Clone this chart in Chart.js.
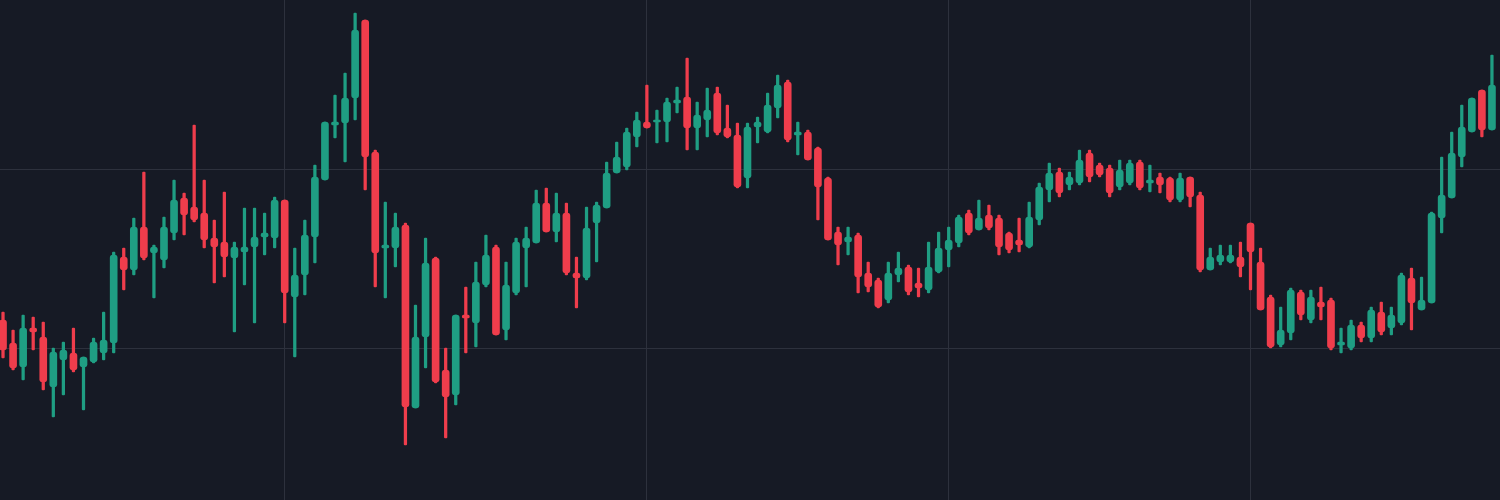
<!DOCTYPE html>
<html>
<head>
<meta charset="utf-8">
<script src="https://cdn.jsdelivr.net/npm/chart.js@4.4.1/dist/chart.umd.min.js"></script>
<style>
  html, body { margin: 0; padding: 0; background: #161a25; }
  canvas { display: block; }
</style>
</head>
<body>
<canvas id="candles" width="1500" height="500"></canvas>
<script>
// OHLC per candle (arbitrary price units)
const opens = [180,157,133,172,163,113,140,147,133,138,147,157,243,230,273,247,240,267,302,293,
  287,262,258,242,248,253,263,262,300,203,225,263,320,375,377,402,480,348,252,252,
  275,92,163,242,130,105,185,177,215,253,170,207,252,257,297,268,287,227,222,277,
  292,327,333,363,378,378,378,397,403,372,380,407,372,365,322,373,368,392,418,365,
  368,352,322,268,258,265,227,220,200,225,233,217,210,228,250,257,287,270,285,282,
  267,260,253,280,310,328,315,317,347,335,332,313,317,338,317,323,322,300,323,305,
  230,238,238,243,277,238,203,155,167,208,180,198,200,155,152,175,162,188,172,177,
  222,190,197,282,302,343,368,410,370];
const highs = [188,170,185,183,178,152,158,172,143,162,188,248,252,282,328,255,283,320,307,375,
  320,280,308,258,292,292,287,303,300,252,280,335,378,405,427,487,480,350,298,287,
  277,195,262,243,152,185,213,238,265,255,238,262,273,310,312,307,297,243,293,298,
  338,358,372,388,415,390,402,413,442,398,412,413,395,377,377,383,407,425,420,378,
  370,353,323,273,273,267,238,222,238,248,235,232,258,268,273,285,290,300,295,285,
  268,282,298,317,337,332,328,350,350,337,335,340,340,340,335,327,323,327,323,308,
  252,255,255,258,277,252,205,193,212,210,210,213,202,172,180,178,193,198,193,227,
  232,223,288,343,368,395,402,410,445];
const lows = [142,130,120,150,110,83,105,128,90,137,140,147,210,225,240,202,232,260,265,278,
  252,217,223,168,215,177,245,252,177,143,205,237,320,362,338,380,310,213,202,233,
  55,92,132,117,62,95,147,153,213,165,160,205,213,257,268,258,225,192,220,238,
  292,327,330,353,372,357,358,387,350,350,363,365,362,312,312,357,367,382,358,345,
  340,280,260,235,245,207,208,192,197,218,205,203,207,227,233,253,265,270,270,245,
  247,248,252,275,298,303,310,315,318,323,303,310,315,310,308,307,298,298,293,228,
  230,235,237,223,210,190,152,153,160,180,177,180,150,147,150,158,158,165,165,175,
  170,190,197,267,302,333,368,363,370];
const closes = [150,132,172,168,118,148,150,130,143,158,160,245,230,273,242,253,273,300,285,280,
  260,253,243,253,253,263,267,300,207,225,265,323,378,378,402,470,343,247,255,273,
  93,163,237,118,103,185,182,218,245,165,215,258,262,297,268,287,227,222,272,295,
  327,343,368,380,372,380,398,400,372,385,390,367,363,313,373,378,395,415,360,368,
  340,313,260,255,263,223,213,193,227,232,208,212,233,252,260,283,267,282,272,253,
  250,255,283,313,327,307,323,340,323,325,307,330,337,312,320,315,300,322,303,230,
  243,245,245,233,248,190,153,170,210,185,203,193,152,158,175,162,190,168,185,225,
  197,200,287,305,347,373,402,370,415];

// candle index where the faint vertical lines sit, and the two horizontal levels
const gridCandles = [28, 64, 94, 124];
const gridLevels = [152, 330];

const upColor = '#1f9e83';
const downColor = '#ef3d4c';

const idx = opens.map((_, i) => i);
const barColors = opens.map((o, i) => closes[i] >= o ? upColor : downColor);

const bodies = idx.map(i => ({ x: i, y: [opens[i], closes[i]] }));
const wicks = idx.map(i => ({ x: i, y: [lows[i], highs[i]] }));

const ctx = document.getElementById('candles').getContext('2d');

new Chart(ctx, {
  type: 'bar',
  data: {
    datasets: [
      {
        label: 'body',
        data: bodies,
        backgroundColor: barColors,
        barThickness: 7,
        borderRadius: 3,
        borderSkipped: false,
        minBarLength: 2,
        grouped: false
      },
      {
        label: 'wick',
        data: wicks,
        backgroundColor: barColors,
        barThickness: 2.6,
        borderRadius: 1,
        borderSkipped: false,
        grouped: false
      }
    ]
  },
  options: {
    responsive: false,
    animation: false,
    events: [],
    layout: { padding: 0 },
    plugins: {
      legend: { display: false },
      tooltip: { enabled: false }
    },
    scales: {
      x: {
        type: 'linear',
        min: -0.3,
        max: 148.8,
        offset: false,
        border: { display: false },
        grid: { color: '#2d313d', lineWidth: 1, drawTicks: false, offset: false },
        ticks: { display: false },
        afterBuildTicks: (scale) => { scale.ticks = gridCandles.map(v => ({ value: v })); }
      },
      y: {
        min: 0,
        max: 500,
        border: { display: false },
        grid: { color: '#2d313d', lineWidth: 1, drawTicks: false },
        ticks: { display: false },
        afterBuildTicks: (scale) => { scale.ticks = gridLevels.map(v => ({ value: v })); }
      }
    }
  }
});
</script>
</body>
</html>
